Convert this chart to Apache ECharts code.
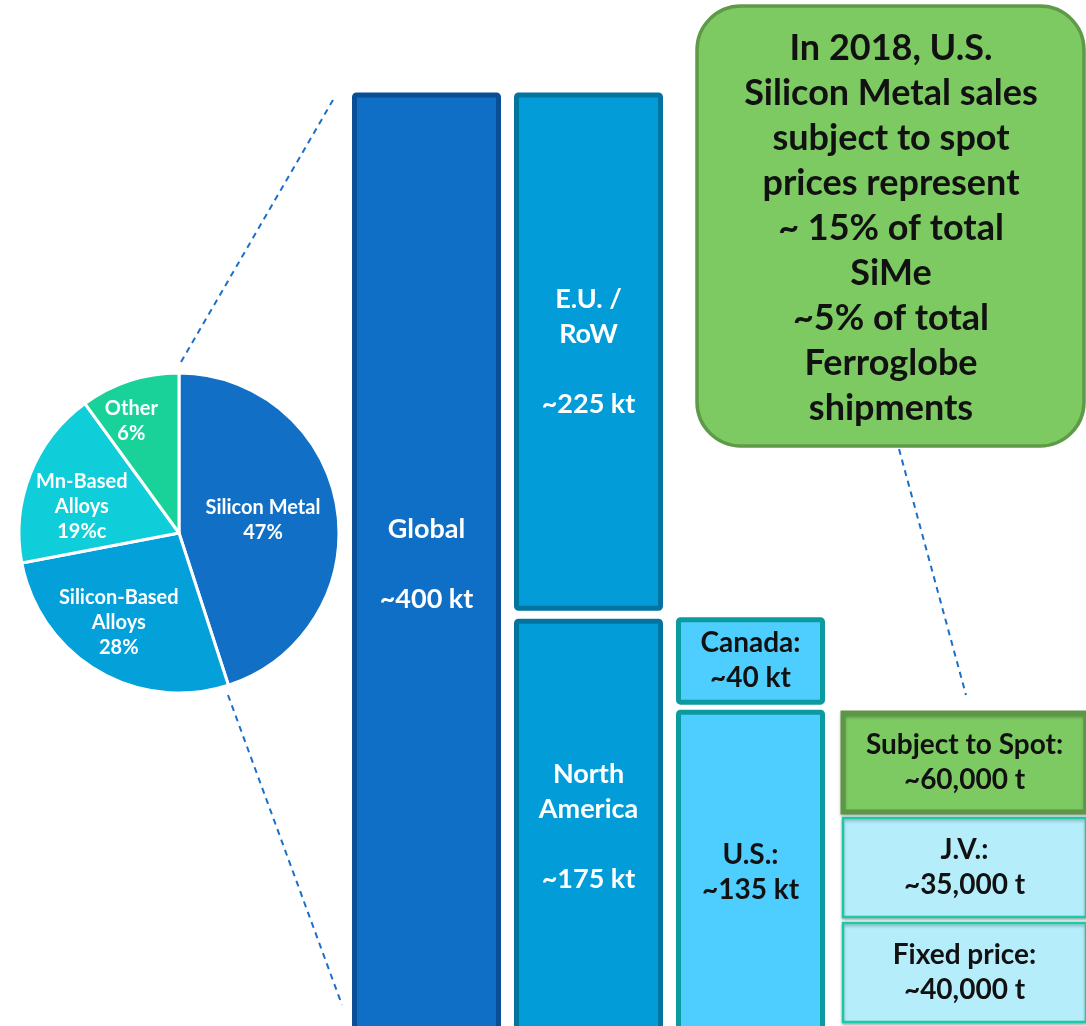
<!DOCTYPE html>
<html>
<head>
<meta charset="utf-8">
<script src="https://cdn.jsdelivr.net/npm/echarts@6.0.0/dist/echarts.min.js"></script>
<style>
  html, body { margin: 0; padding: 0; background: #ffffff; }
  #chart { width: 1086px; height: 1026px; }
</style>
</head>
<body>
<div id="chart"></div>
<script>
// pie: market split (slice sizes as drawn, printed labels as written)
const pieNames = ['Silicon Metal', 'Silicon-Based\nAlloys', 'Mn-Based\nAlloys', 'Other'];
const pieValues = [45, 27, 18, 10];
const pieValueText = ['47%', '28%', '19%c', '6%'];

// blocks in kt: column, low end, high end, label
const blockCol = [0, 1, 1, 2, 2];
const blockLow = [0, 175, 0, 135, 0];
const blockHigh = [400, 400, 175, 175, 135];
const blockLabels = ['Global\n\n~400 kt', 'E.U. /\nRoW\n\n~225 kt', 'North\nAmerica\n\n~175 kt', 'Canada:\n~40 kt', 'U.S.:\n~135 kt'];

// U.S. split (tonnes)
const splitNames = ['Subject to Spot', 'J.V.', 'Fixed price'];
const splitValues = [60000, 35000, 40000];

const calloutText = 'In 2018, U.S.\nSilicon Metal sales\nsubject to spot\nprices represent\n~ 15% of total\nSiMe\n~5% of total\nFerroglobe\nshipments';

const FONT = 'Lato, "Open Sans", sans-serif';

const myChart = echarts.init(document.getElementById('chart'));

// colours per column of blocks
const colStyle = [
  { fill: '#0F6EC6', stroke: '#0A4F96', text: '#ffffff', size: 27, inset: 6 },
  { fill: '#029DD9', stroke: '#03739F', text: '#ffffff', size: 27, inset: 6.5 },
  { fill: '#4ECEFE', stroke: '#0A9AA0', text: '#111111', size: 28, inset: 5 }
];
const splitStyle = [
  { fill: '#7DC962', stroke: '#5E9648', lw: 5 },
  { fill: '#B6EDFB', stroke: '#1CC9A6', lw: 2.5 },
  { fill: '#B6EDFB', stroke: '#1CC9A6', lw: 2.5 }
];

const pieOffsets = [[2, 0], [-18, 18], [-20, 4], [-22, -33]];

function renderBlock(params, api) {
  const col = api.value(0);
  const lo = api.value(1);
  const hi = api.value(2);
  const pLo = api.coord([col, lo]);
  const pHi = api.coord([col, hi]);
  const band = api.size([1, 0])[0];
  const w = band - 18;
  const st = colStyle[col];
  const top = pHi[1] + (hi < 400 ? st.inset : 0);
  const bottom = pLo[1] - (lo > 0 ? st.inset : 0);
  // blocks that start at zero run on past the frame
  const drawBottom = lo === 0 ? bottom + 14 : bottom;
  const x = pLo[0] - w / 2;
  return {
    type: 'group',
    children: [
      {
        type: 'rect',
        shape: { x: x, y: top, width: w, height: drawBottom - top, r: 2 },
        style: { fill: st.fill, stroke: st.stroke, lineWidth: 5 }
      },
      {
        type: 'text',
        x: pLo[0],
        y: (top + drawBottom) / 2,
        style: {
          text: blockLabels[params.dataIndex],
          fill: st.text,
          fontFamily: FONT,
          fontWeight: 'bold',
          fontSize: st.size,
          lineHeight: 35,
          align: 'center',
          verticalAlign: 'middle',
          textAlign: 'center',
          textVerticalAlign: 'middle'
        }
      }
    ]
  };
}

function renderSplit(params, api) {
  const c = api.coord([0, params.dataIndex]);
  const size = api.size([0, 0]);
  const bw = size[0];
  const bh = size[1];
  const st = splitStyle[params.dataIndex];
  return {
    type: 'group',
    children: [
      {
        type: 'rect',
        shape: { x: c[0] - bw / 2, y: c[1] - bh / 2 + 3, width: bw, height: bh - 6 },
        style: {
          fill: st.fill, stroke: st.stroke, lineWidth: st.lw,
          shadowColor: 'rgba(0,0,0,0.25)', shadowBlur: 3, shadowOffsetY: 2
        }
      },
      {
        type: 'text',
        x: c[0],
        y: c[1],
        style: {
          text: splitNames[params.dataIndex] + ':\n~' + splitValues[params.dataIndex].toLocaleString('en-US') + ' t',
          fill: '#111111',
          fontFamily: FONT,
          fontWeight: 'bold',
          fontSize: 28,
          lineHeight: 35,
          align: 'center',
          verticalAlign: 'middle',
          textAlign: 'center',
          textVerticalAlign: 'middle'
        }
      }
    ]
  };
}

const dash = { stroke: '#1A6FCB', lineWidth: 2, lineDash: [6, 5] };

const option = {
  backgroundColor: '#ffffff',
  animation: false,
  grid: [
    { left: 345.5, width: 486, top: 95, bottom: 7 },
    { left: 843, right: -22, top: 710, bottom: 1 }
  ],
  xAxis: [
    { gridIndex: 0, type: 'category', data: ['Global', 'Region', 'Country'], show: false },
    { gridIndex: 1, type: 'category', data: ['U.S.'], show: false }
  ],
  yAxis: [
    { gridIndex: 0, type: 'value', min: 0, max: 400, show: false },
    { gridIndex: 1, type: 'category', data: splitNames, inverse: true, show: false }
  ],
  graphic: [
    { type: 'line', shape: { x1: 181, y1: 362, x2: 333, y2: 100 }, style: dash, z: 1 },
    { type: 'line', shape: { x1: 228, y1: 695, x2: 342, y2: 1005 }, style: dash, z: 1 },
    { type: 'line', shape: { x1: 899, y1: 449, x2: 966, y2: 695 }, style: dash, z: 1 },
    {
      type: 'group',
      z: 10,
      children: [
        {
          type: 'rect',
          shape: { x: 697, y: 6, width: 387, height: 440, r: 44 },
          style: { fill: '#7DCA63', stroke: '#5E9A48', lineWidth: 3.5 }
        },
        {
          type: 'text',
          x: 891,
          y: 228,
          style: {
            text: calloutText,
            fill: '#111111',
            fontFamily: FONT,
            fontWeight: 'bold',
            fontSize: 36,
            lineHeight: 45,
            align: 'center',
            verticalAlign: 'middle',
            textAlign: 'center',
            textVerticalAlign: 'middle'
          }
        }
      ]
    }
  ],
  series: [
    {
      type: 'pie',
      center: [179, 533],
      radius: 160,
      startAngle: 90,
      clockwise: true,
      color: ['#1170C6', '#04A0DA', '#10CED9', '#18D29A'],
      itemStyle: { borderColor: '#ffffff', borderWidth: 3 },
      labelLine: { show: false },
      emphasis: { disabled: true },
      data: pieValues.map((v, i) => ({
        name: pieNames[i],
        value: v,
        label: {
          show: true,
          position: 'inside',
          offset: pieOffsets[i],
          formatter: () => pieNames[i] + '\n' + pieValueText[i],
          color: '#ffffff',
          fontFamily: FONT,
          fontWeight: 'bold',
          fontSize: 20,
          lineHeight: 25,
          align: 'center'
        }
      }))
    },
    {
      type: 'custom',
      xAxisIndex: 0,
      yAxisIndex: 0,
      clip: false,
      renderItem: renderBlock,
      data: blockCol.map((c, i) => [c, blockLow[i], blockHigh[i]])
    },
    {
      type: 'custom',
      xAxisIndex: 1,
      yAxisIndex: 1,
      clip: false,
      renderItem: renderSplit,
      data: splitValues.map((v, i) => [0, i, v])
    }
  ]
};

myChart.setOption(option);
window.addEventListener('resize', () => myChart.resize());
</script>
</body>
</html>
